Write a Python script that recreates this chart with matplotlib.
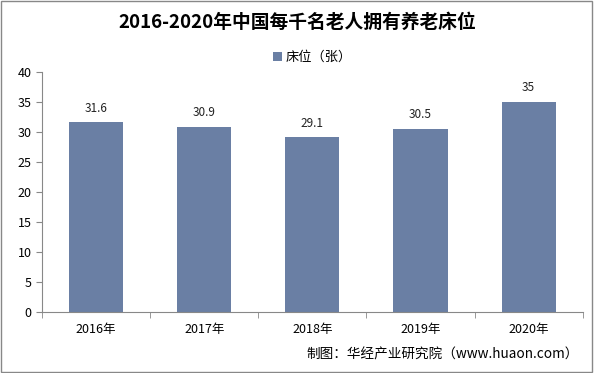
import matplotlib.pyplot as plt
from matplotlib.patches import Rectangle

plt.rcParams['font.family'] = ['Noto Sans CJK SC', 'DejaVu Sans']

years = ['2016年', '2017年', '2018年', '2019年', '2020年']
beds = [31.6, 30.9, 29.1, 30.5, 35]

fig = plt.figure(figsize=(5.94, 3.73), dpi=100)
ax = fig.add_axes([0.0707, 0.1635, 0.9103, 0.6435])

x = range(len(years))
bars = ax.bar(x, beds, width=0.5, color='#6A7FA4', label='床位（张）')

for i, v in enumerate(beds):
    ax.text(i, v + 1.3, f'{v:g}', ha='center', va='bottom', fontsize=8.5, color='#222222')

ax.set_ylim(0, 40)
ax.set_yticks(range(0, 41, 5))
ax.set_xlim(-0.5, len(years) - 0.5)
ax.set_xticks(list(x))
ax.set_xticklabels(years, fontsize=9)
ax.set_xticks([i - 0.5 for i in range(len(years) + 1)], minor=True)
ax.tick_params(axis='x', which='major', length=0, pad=8)
ax.tick_params(axis='x', which='minor', length=4, color='#888888')
ax.tick_params(axis='y', length=4, color='#888888', labelsize=9)

for s in ['top', 'right']:
    ax.spines[s].set_visible(False)
for s in ['left', 'bottom']:
    ax.spines[s].set_color('#888888')

ax.legend(loc='center', bbox_to_anchor=(0.5, 1.06), frameon=False,
          fontsize=9.5, handlelength=0.7, handleheight=0.7, handletextpad=0.3)

fig.text(0.5, 0.94, '2016-2020年中国每千名老人拥有养老床位', ha='center', va='center',
         fontsize=13.5, fontweight='bold')
fig.text(0.975, 0.05, '制图：华经产业研究院（www.huaon.com）', ha='right', va='center',
         fontsize=9.8)

fig.patches.append(Rectangle((0.002, 0.003), 0.995, 0.993, transform=fig.transFigure,
                             fill=False, edgecolor='#888888', linewidth=1))

plt.savefig('out.png', dpi=100)
